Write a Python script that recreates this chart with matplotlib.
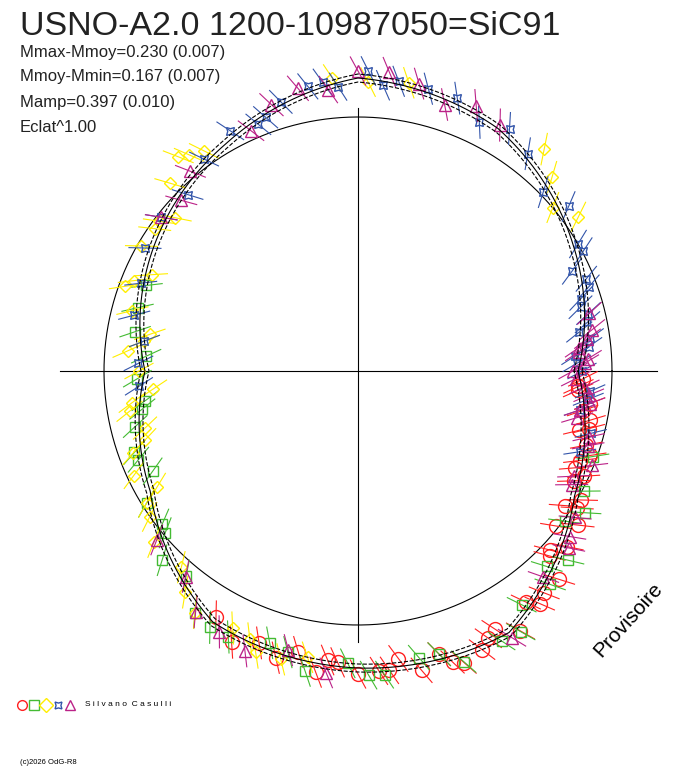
import numpy as np
import matplotlib.pyplot as plt

plt.rcParams['font.family'] = ['Liberation Sans', 'DejaVu Sans']

# mean light curve: polar angle (deg) -> radius (px)
curve_ang = [0, 30, 60, 90, 120, 150, 180, 210, 240, 270, 300, 330, 360]
curve_rad = [220, 249, 280, 293, 263, 238, 213, 240, 290, 297, 302, 250, 220]

# observations per series: angle (deg), radial offset (px)
red_ang = [-2, -5, -8, -10, -12, -15, -18, -20, -22, -25, -27, -30, -33, -35, -38, -40, -43, -46,
           -50, -54, -58, -62, -66, -70, -74, -78, -82, -86, -90, -94, -98, -102, -106, -110, -115, -120,
           -4, -14, -24, -32, -44, -52, -64, -72, -84, -96]
red_off = [3, -4, 6, -2, 5, -6, 2, 7, -3, 4, -5, 8, -8, 10, -12, 6, -10, 12, 5, -6, 8, -9, 4, 10,
           -5, 7, -8, 3, 6, -4, 9, -7, 5, -3, 8, -6, -3, 4, -6, 5, -8, 7, -4, 6, 3, -5]
green_ang = [-20, -28, -36, -42, -48, -55, -62, -70, -78, -85, -92, -100, -108, -116, -124, -130,
             -136, -142, -148, -154, -160, -166, -172, -178, -184, -190, -196, -202,
             -32, -46, -58, -74, -88, -104, -120, -140, -158, -170]
green_off = [10, 8, -5, 12, 6, -8, 4, 9, -6, 7, -4, 10, -7, 5, 8, -6, 9, -5, 6, -8, 7, 4, -5, 6, -4,
             5, 3, -3, 14, -6, 9, -5, 7, -4, 6, -5, 4, -3]
yellow_ang = [35, 40, 45, 50, 80, 88, 95, 125, 130, 135, 140, 145, 150, 155, 160, 165, 170, 175, 180,
              185, 190, 195, 200, 205, 210, 215, 220, 228, 236, 244, 250, 255, 260,
              128, 143, 158, 172, 188, 198, 212, 232, 248]
yellow_off = [15, -5, 10, 20, 4, -3, 6, 10, 25, 15, -8, 6, 12, -6, 18, 8, -10, 14, 6, -12, 10, -6,
              8, 12, -8, 6, 10, -6, 8, -5, 7, 5, -4, 18, 5, 10, -4, 8, -5, 6, 4, -3]
blue_ang = [-15, -10, -5, 0, 4, 8, 12, 16, 20, 25, 30, 38, 44, 52, 58, 64, 70, 76, 82, 88, 94, 100,
            106, 112, 118, 126, 134, 142, 150, 158, 166, 172, 178, 184,
            -20, -7, 2, 6, 10, 14, 18, 22, 28, 85, 97, 110]
blue_off = [6, -5, 8, 4, -6, 7, 3, -4, 6, -8, 5, 10, -6, 4, 8, -5, 6, 4, 3, 8, -4, 6, 3, -5, 7, 4,
            -6, 5, 8, 3, 6, -4, 5, 3, -4, 5, -3, 6, -5, 4, -3, 5, 8, -4, 5, -3]
mag_ang = [-60, -48, -40, -34, -28, -22, -16, -12, -8, -4, 0, 3, 6, 10, 14, 60, 66, 72, 78, 84, 90,
           96, 102, 108, 114, 130, 136, 142, -96, -104, -112, -118, -124, -130, -140,
           -2, 2, 5, 8, -6, -10, -18, -26, -38]
mag_off = [6, -4, 8, 5, -6, 10, 4, -8, 6, 3, -5, 7, -4, 8, 5, 4, 8, -5, 6, 10, 7, -4, 8, 5, -6, 6,
           -4, 5, 8, -6, 10, 5, 7, -5, 6, -4, 5, -3, 4, 6, -5, 4, -6, 5]

series = [
    (red_ang, red_off, '#ff2020', 'o', 10),
    (green_ang, green_off, '#44bb33', 's', 7),
    (yellow_ang, yellow_off, '#ffee00', 'D', 6),
    (blue_ang, blue_off, '#3355aa', (4, 1, 45), 8),
    (mag_ang, mag_off, '#bb2288', '^', 8),
]

cx, cy = 358, 371

fig = plt.figure(figsize=(6.88, 7.68), dpi=100)
ax = fig.add_axes([0, 0, 1, 1])
ax.set_xlim(0, 688)
ax.set_ylim(768, 0)
ax.axis('off')

# axes cross and reference circle
ax.plot([60, 657], [cy, cy], color='black', lw=0.8)
ax.plot([cx, cx], [108, 642], color='black', lw=0.8)
t = np.linspace(0, 2 * np.pi, 400)
ax.plot(cx + 254 * np.cos(t), cy - 254 * np.sin(t), color='black', lw=0.8)

for ang, off, col, mk, ms in series:
    a = np.radians(np.array(ang) % 360)
    r = np.interp(np.degrees(a), curve_ang, curve_rad) + np.array(off)
    x = cx + r * np.cos(a)
    y = cy - r * np.sin(a)
    tilt = a + 0.5
    for xi, yi, ti in zip(x, y, tilt):
        ax.plot([xi - 16 * np.cos(ti), xi + 16 * np.cos(ti)],
                [yi + 16 * np.sin(ti), yi - 16 * np.sin(ti)], color=col, lw=0.8)
    ax.plot(x, y, ls='none', marker=mk, ms=ms, mfc='none', mec=col, mew=1)

# mean curve with dashed envelope
ta = np.linspace(0, 360, 721)
tr = np.interp(ta, curve_ang, curve_rad)
for dr, ls in [(0, '-'), (-4, '--'), (4, '--')]:
    ax.plot(cx + (tr + dr) * np.cos(np.radians(ta)), cy - (tr + dr) * np.sin(np.radians(ta)),
            color='black', lw=0.8, ls=ls)

ax.text(20, 35, 'USNO-A2.0 1200-10987050=SiC91', fontsize=24.5, color='#222222')
lines = ['Mmax-Mmoy=0.230 (0.007)', 'Mmoy-Mmin=0.167 (0.007)', 'Mamp=0.397 (0.010)', 'Eclat^1.00']
for i, s in enumerate(lines):
    ax.text(20, 52 + 25 * i, s, fontsize=12, color='#222222', va='center')
ax.text(628, 620, 'Provisoire', fontsize=15, rotation=48, ha='center', va='center')

leg = [('o', '#ff2020'), ('s', '#44bb33'), ('D', '#ffee00'), ((4, 1, 45), '#3355aa'), ('^', '#bb2288')]
for i, (mk, col) in enumerate(leg):
    ax.plot(22 + 12 * i, 705, marker=mk, ms=7, mfc='none', mec=col, mew=1)
ax.text(85, 705, 'S i l v a n o  C a s u l l i', fontsize=6, va='center')
ax.text(20, 762, '(c)2026 OdG-R8', fontsize=5.5, va='center')

fig.savefig('out.png', dpi=100)
